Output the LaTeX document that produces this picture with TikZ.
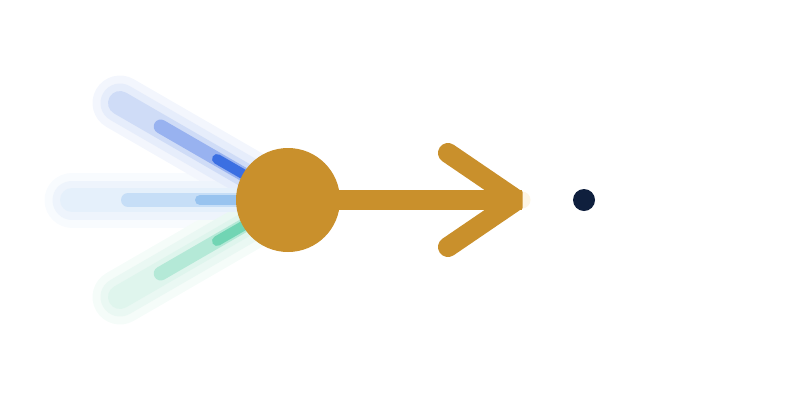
\documentclass[tikz,border=0pt]{standalone}
\usepackage{xcolor}
\usepackage{tikz}
\usetikzlibrary{positioning}
\definecolor{oro}{HTML}{C9902C}
\definecolor{notte}{HTML}{0F1F3D}
\definecolor{crema}{HTML}{FDF5E6}
% scia blu (alto)
\definecolor{bluA}{HTML}{F3F6FD}
\definecolor{bluB}{HTML}{E6EDFB}
\definecolor{bluC}{HTML}{CFDCF7}
\definecolor{bluD}{HTML}{98B2F0}
\definecolor{bluE}{HTML}{3B6FE2}
% scia celeste (centro)
\definecolor{celA}{HTML}{F8FBFE}
\definecolor{celB}{HTML}{EEF4FC}
\definecolor{celC}{HTML}{E5F0FB}
\definecolor{celD}{HTML}{C6DEF7}
\definecolor{celE}{HTML}{98C3EF}
% scia verde (basso)
\definecolor{verA}{HTML}{F5FCF9}
\definecolor{verB}{HTML}{EAF8F3}
\definecolor{verC}{HTML}{DFF5ED}
\definecolor{verD}{HTML}{B4E9D7}
\definecolor{verE}{HTML}{71D5B4}

\begin{document}
\begin{tikzpicture}[x=1pt,y=-1pt,
    alone/.style={line width=55pt,line cap=round},
    alonino/.style={line width=39pt,line cap=round},
    traccia/.style={line width=24pt,line cap=round},
    tratto/.style={line width=14pt,line cap=round},
    lampo/.style={line width=10pt,line cap=round}]
    \useasboundingbox (0,0) rectangle (800,400);

    % Punti delle scie
    \coordinate (centro) at (288,200);
    \coordinate (altoC) at (120,103);
    \coordinate (altoD) at (160.7,126.5);
    \coordinate (altoE) at (217,159);
    \coordinate (medioC) at (72,200);
    \coordinate (medioD) at (128,200);
    \coordinate (medioE) at (200,200);
    \coordinate (bassoC) at (120,297);
    \coordinate (bassoD) at (160.7,273.5);
    \coordinate (bassoE) at (217,241);

    % Aloni
    \draw[alone,draw=celA] (medioC) -- (centro);
    \draw[alone,draw=bluA] (altoC) -- (centro);
    \draw[alone,draw=verA] (bassoC) -- (centro);
    \draw[alonino,draw=celB] (medioC) -- (centro);
    \draw[alonino,draw=bluB] (altoC) -- (centro);
    \draw[alonino,draw=verB] (bassoC) -- (centro);

    % Scie
    \draw[traccia,draw=celC] (medioC) -- (centro);
    \draw[traccia,draw=bluC] (altoC) -- (centro);
    \draw[traccia,draw=verC] (bassoC) -- (centro);
    \draw[tratto,draw=celD] (medioD) -- (centro);
    \draw[tratto,draw=bluD] (altoD) -- (centro);
    \draw[tratto,draw=verD] (bassoD) -- (centro);
    \draw[lampo,draw=celE] (medioE) -- (centro);
    \draw[lampo,draw=bluE] (altoE) -- (centro);
    \draw[lampo,draw=verE] (bassoE) -- (centro);

    % Nucleo e freccia
    \node[circle,fill=oro,minimum size=104pt,inner sep=0pt,outer sep=0pt] (nucleo) at (centro) {};
    \node[circle,fill=crema,minimum size=17pt,inner sep=0pt] (bagliore) at (522,200) {};
    \coordinate (punta) at (522,200);
    \coordinate (vertice) at (517,200);
    \coordinate (alaSu) at (448,153);
    \coordinate (alaGiu) at (448,247);
    \draw[line width=20pt,draw=oro] (nucleo.center) -- (punta);
    \draw[line width=20pt,draw=oro,line cap=round,line join=bevel] (alaSu) -- (vertice) -- (alaGiu);

    % Punto finale
    \node[circle,fill=notte,minimum size=22pt,inner sep=0pt] (punto) at (584,200) {};
\end{tikzpicture}
\end{document}
